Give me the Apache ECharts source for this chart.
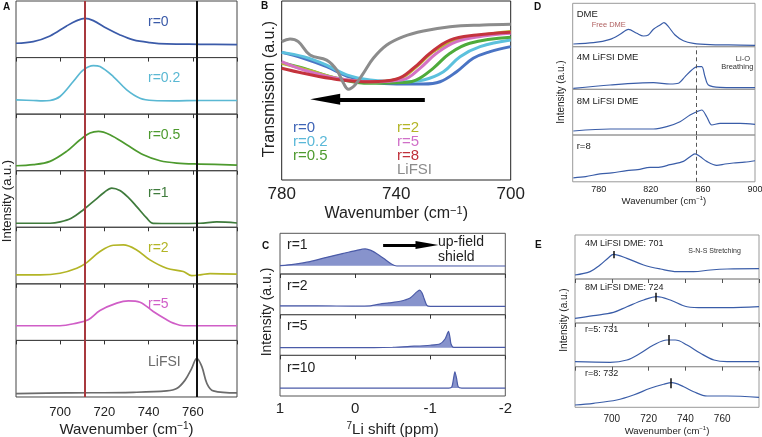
<!DOCTYPE html>
<html><head><meta charset="utf-8">
<script src="https://cdn.jsdelivr.net/npm/echarts@6/dist/echarts.min.js"></script>
<style>html,body{margin:0;padding:0;background:#fff}#c{width:762px;height:437px}</style>
</head><body><div id="c"></div>
<script>
// ---------- Panel A (Raman, wavenumber vs intensity, stacked) ----------
const A_labels = ['r=0','r=0.2','r=0.5','r=1','r=2','r=5','LiFSI'];
const A_r0  = [[680,25.3],[687.8,28.2],[695.4,38.2],[702.9,55.9],[707.5,65.3],[711.2,69.4],[715,65.3],[721,51.8],[727.1,40],[733.1,31.2],[740.6,26.5],[748.2,24.1],[763.3,23.5],[780,22.9]];
const A_r02 = [[680,25.3],[687.8,24.1],[692,23.3],[695.4,24.1],[699.9,31.2],[705.9,57.6],[710.5,78.2],[715,85.9],[718,84.1],[724,66.5],[730.1,42.9],[736.1,28.2],[742.1,24.1],[751.2,23.5],[763.3,24.1],[780,24.1]];
const A_r05 = [[680,8.8],[687.8,10.6],[695.4,16.5],[702.9,34.1],[709,54.7],[713.5,66.5],[717.3,69.4],[722.5,63.5],[730.1,45.9],[737.6,28.2],[745.2,17.6],[752.7,13.5],[763.3,11.8],[780,10]];
const A_r1  = [[680,7.1],[695.4,7.1],[700,9.5],[705,16],[710.5,31],[716,49],[720,62],[723.3,69.3],[727,65],[731,52],[734.6,36.6],[739.1,16.5],[742.1,7],[751.2,6.7],[763.3,7.1],[770.8,9.5],[780,7.6]];
const A_r2  = [[680,15.9],[690.9,15.9],[699.9,18.8],[707.5,27.6],[712,37.6],[718,57.1],[724,68.2],[728.6,68.8],[734.6,60],[740.6,42.4],[748.2,27.6],[755.7,21.8],[759.5,14.7],[763.3,15.9],[767.8,18.2],[780,17.1]];
const A_r5  = [[680,25.9],[690,25.9],[699.9,25.9],[707.5,30.6],[712.7,36.5],[718,52.9],[725.6,65.9],[730.9,70],[736.1,67.6],[742.1,51.2],[748.2,36.5],[751.2,30.6],[755.7,25.9],[780,25.9]];
const A_li  = [[680,6],[702.9,7.1],[733.1,8.3],[748.2,10.7],[752.7,14.9],[756.5,29.8],[759.5,50.6],[761.8,68.5],[764.1,53.6],[766.4,23.8],[769.3,10.7],[780,7.1]];
const A_refLines = [711, 762];

// ---------- Panel B (FTIR transmission) ----------
const B_labels = ['r=0','r=0.2','r=0.5','r=2','r=5','r=8','LiFSI'];
const B_r0  = [[780,71.3],[772.4,68],[764.3,63.3],[757.3,58.1],[749.1,54.9],[739.8,53.6],[730.5,53.6],[724.7,54.9],[718.9,60.5],[713.1,68],[707.2,71.7],[700,74.5]];
const B_r02 = [[780,71.3],[772.4,68.9],[764.3,64.2],[757.3,58.7],[749.1,55.9],[737.5,54.9],[730.5,55.9],[723.5,60.5],[717.7,68.9],[710.7,74.5],[700,78.2]];
const B_r05 = [[780,65.5],[772.4,62.4],[760.8,56.8],[749.1,54],[737.5,54.4],[732.9,55.9],[727.1,62.4],[721.2,70.8],[714.3,76.4],[700,79.7]];
const B_r2  = [[780,65.2],[770,61],[760.8,56.8],[749.1,54.9],[738.7,56.8],[732.9,63.3],[727.1,71.7],[718.9,78.2],[709.6,81],[700,82.9]];
const B_r5  = [[780,66.1],[772.4,61.5],[760.8,56.8],[749.1,54.9],[737.5,56.2],[731.7,62.4],[725.9,70.8],[718.9,77.3],[709.6,80.4],[700,82]];
const B_r8  = [[780,62.4],[772.4,59.6],[760.8,56.2],[749.1,54.9],[739.8,56.4],[734,62.4],[728.2,70.8],[721.2,78.2],[711.9,81],[700,82.6]];
const B_li  = [[780,77.3],[777.1,78.8],[774.2,77.3],[770.1,69.8],[764.3,67],[760.8,61.5],[758.4,54],[756.7,50.7],[754.4,53.1],[751.5,59.6],[748,68],[743.3,75.4],[737.5,80.1],[730.5,83.2],[721.2,85.6],[709.6,86.6],[700,87]];
const B_arrow = [[730,45.1],[764.8,45.1]];

// ---------- Panel C (7Li NMR) ----------
const C_labels = ['r=1','r=2','r=5','r=10'];
const C_r1  = [[1,20.5],[0.822,23.8],[0.6,30.3],[0.378,41],[0.156,50.8],[-0.022,58.2],[-0.133,61.5],[-0.244,54.9],[-0.378,38.5],[-0.489,23.8],[-0.556,19.7],[-1,19.7],[-2,19.7]];
const C_r2  = [[1,21.5],[0.5,21.8],[0,21],[-0.2,21.5],[-0.289,25],[-0.45,29],[-0.6,33],[-0.733,41],[-0.822,56],[-0.858,60.3],[-0.89,54],[-0.911,43.8],[-0.956,23.1],[-1.0,20.7],[-2,20.7]];
const C_r5  = [[1,18.9],[0,18.9],[-0.5,20],[-0.733,22.1],[-1.0,25],[-1.133,28.7],[-1.2,41],[-1.244,59],[-1.265,42],[-1.276,28.7],[-1.311,19.7],[-2,19.5]];
const C_r10 = [[1,19.5],[-1.25,19.5],[-1.289,22.8],[-1.311,43.1],[-1.329,59.3],[-1.351,43.1],[-1.373,22.8],[-1.42,19.5],[-2,19.5]];
const C_base = [20, 21, 19, 19.5];
const C_arrow = [[-0.373,71.3],[-0.957,71.3]];

// ---------- Panel D (Raman, Li-O breathing) ----------
const D_labels = ['DME','4M LiFSI DME','8M LiFSI DME','r=8'];
const D_dme = [[760.5,6.2],[775.9,9.2],[788.7,17],[796.4,28.6],[802.8,40.1],[809.2,30.9],[814.3,24.7],[818.1,27],[822,40.1],[827.1,50],[830.1,55.3],[833.5,46.1],[838.6,27],[845,13.8],[852.7,7.8],[865.5,4.6],[880,4],[900,3.2]];
const D_4m  = [[760.5,2.3],[788.7,10.1],[822,15.5],[834.8,12.4],[841.2,14.1],[846.3,29.6],[851.4,45.3],[855.7,53.1],[859.1,53.1],[861.6,29.6],[864.2,10.1],[873.2,4.7],[900,3.8]];
const D_8m  = [[760.5,8.8],[788.7,13.1],[822,13.1],[832.2,18.2],[842.4,29.1],[850.1,43.8],[855.2,51],[859.1,54.7],[862.9,40],[866.8,21.9],[873.2,25.6],[888.5,25.6],[900,23.4]];
const D_r8  = [[760.5,8.5],[770,11],[781,16.9],[790,19],[801.5,23.9],[810,26],[819.4,30.9],[826,31],[834.8,36.6],[845,43.6],[851.4,56.2],[854,59.8],[857.8,54.1],[862.9,43.6],[870.6,35.1],[877,38],[883.4,40.2],[892,42],[900,45]];
const D_dash = 855;

// ---------- Panel E (S-N-S stretching) ----------
const E_labels = ['4M LiFSI DME: 701','8M LiFSI DME: 724','r=5: 731','r=8: 732'];
const E_4m = [[680,9.1],[688.2,16.7],[693.6,31.8],[698.2,48.5],[700.9,56.1],[708.2,47],[717.3,31.8],[726.4,22.7],[735.5,16.7],[744.5,16.7],[753.6,20.5],[762.7,22.7],[780,23.5]];
const E_8m = [[680,10.6],[690,16.7],[700.9,24.2],[708.2,37],[717.3,52.3],[724.5,59.8],[731.8,52.3],[740.9,37],[750,34.8],[762.7,34.8],[780,37]];
const E_r5 = [[680,11.4],[699.1,10],[708.2,15.3],[715.5,30.7],[722.7,49.7],[730,61.1],[734.5,61.1],[740.9,49.7],[748.2,30.7],[755.5,15.3],[762.7,11.4],[780,11.4]];
const E_r8 = [[680,5.7],[690,9.9],[702.7,18],[711.8,30.3],[720.9,46.8],[728.2,56.7],[732.7,60.6],[739.1,50.7],[744.5,38.4],[751.8,27.8],[762.7,27.8],[780,24.6]];
const E_peaks = [701, 724, 731, 732];
const E_peakSpan = [[47,63.6],[48.4,68.9],[49.7,72.5],[46.8,71.4]];

// ================= build =================
const FF = '"Liberation Sans", Arial, Helvetica, sans-serif';
const grids = [], xAxes = [], yAxes = [], series = [], graphics = [];
function addGrid(left, top, width, height, border) {
  grids.push({left, top, width, height, show: true, borderColor: border, borderWidth: 1,
    backgroundColor: 'transparent', containLabel: false, outerBoundsMode: 'none'});
  yAxes.push({type: 'value', gridIndex: grids.length - 1, min: 0, max: 100, show: false});
  return grids.length - 1;
}
function supName(size) {
  return {
    name: '{a|Wavenumber (cm}{s|−1}{a|)}',
    nameTextStyle: {rich: {
      a: {fontSize: size, fontFamily: FF, color: '#222', lineHeight: size + 2},
      s: {fontSize: Math.round(size * 0.68), fontFamily: FF, color: '#222', verticalAlign: 'top', lineHeight: size * 0.9}
    }}
  };
}
function txt(text, x, y, size, color, opts) {
  graphics.push(Object.assign({type: 'text', x, y, silent: true,
    style: Object.assign({text, fill: color || '#222', fontSize: size, fontFamily: FF,
      align: 'left', verticalAlign: 'middle'}, (opts && opts.style) || {})}, (opts && opts.el) || {}));
}
function ytxt(text, x, y, size) {
  graphics.push({type: 'text', x, y, rotation: Math.PI / 2, silent: true,
    style: {text, fill: '#222', fontSize: size, fontFamily: FF, align: 'center', verticalAlign: 'middle'}});
}
function lineSeries(gi, data, color, width, extra) {
  series.push(Object.assign({type: 'line', xAxisIndex: gi, yAxisIndex: gi, data,
    symbol: 'none', showSymbol: false, smooth: 0.35, silent: true,
    lineStyle: {color, width}, itemStyle: {color}}, extra || {}));
}

// ---- A ----
const A_series = [A_r0, A_r02, A_r05, A_r1, A_r2, A_r5, A_li];
const A_colors = ['#3b5ba9','#5ab8d3','#4d9a2e','#3f7b3c','#b3b526','#d05ec7','#6b6b6b'];
const A_h = 56.57;
A_series.forEach((d, i) => {
  const gi = addGrid(16, 1 + i * A_h, 221, A_h, '#444');
  const last = i === A_series.length - 1;
  xAxes.push(Object.assign({type: 'value', gridIndex: gi, min: 680, max: 780, interval: 20,
    axisLine: {show: false}, splitLine: {show: false},
    axisTick: {show: !last, inside: false, length: 4, lineStyle: {color: '#333'}},
    axisLabel: {show: last, margin: 9, fontSize: 13, fontFamily: FF, color: '#222',
      formatter: v => (v >= 700 && v <= 760) ? String(v) : ''},
    nameLocation: 'middle', nameGap: 24}, last ? supName(15) : {}));
  lineSeries(gi, d, A_colors[i], 1.7, {
    markLine: {silent: true, symbol: 'none', animation: false, label: {show: false},
      data: [{xAxis: A_refLines[0], lineStyle: {color: '#a8393e', width: 2, type: 'solid'}},
             {xAxis: A_refLines[1], lineStyle: {color: '#111', width: 2, type: 'solid'}}]}
  });
});
const A_labelY = [21.7, 78, 135, 192.7, 248.3, 304, 361.7];
A_labels.forEach((t, i) => txt(t, 148, A_labelY[i], 14, A_colors[i]));
ytxt('Intensity (a.u.)', 7, 201, 13);
txt('A', 3, 7, 10, '#111', {style: {fontWeight: 'bold'}});

// ---- B ----
{
  const gi = addGrid(281.7, 1, 229, 179, '#222');
  xAxes.push(Object.assign({type: 'value', gridIndex: gi, min: 700, max: 780, interval: 20, inverse: true,
    axisLine: {show: false}, splitLine: {show: false}, axisTick: {show: false},
    axisLabel: {show: true, margin: 6, fontSize: 17, fontFamily: FF, color: '#222', showMinLabel: true, showMaxLabel: true,
      formatter: v => (v % 40 === 20) ? String(v) : ''},
    nameLocation: 'middle', nameGap: 25}, supName(16)));
  const B_series = [B_r0, B_r02, B_r05, B_r2, B_r5, B_r8, B_li];
  const B_colors = ['#4a74c4','#5cc1dd','#4eab3b','#b8bc2e','#d472c4','#c4333d','#8c8c8c'];
  B_series.forEach((d, i) => lineSeries(gi, d, B_colors[i], 3, {smooth: 0.4}));
  // arrow
  series.push({type: 'line', xAxisIndex: gi, yAxisIndex: gi, data: [], silent: true,
    markLine: {silent: true, animation: false, symbol: ['none', 'triangle'], symbolSize: [11, 30],
      label: {show: false}, lineStyle: {color: '#000', width: 4, type: 'solid'},
      itemStyle: {color: '#000'},
      data: [[{coord: B_arrow[0]}, {coord: B_arrow[1]}]]}});
  const B_txtColors = ['#3e64b6','#5ab8d8','#4d9a2e','#b3b526','#d070c8','#c0303a','#8c8c8c'];
  const pos = [[293,128.3],[293,142.3],[293,156],[397,128.3],[397,142.3],[397,156],[397,169.5]];
  B_labels.forEach((t, i) => txt(t, pos[i][0], pos[i][1], 15, B_txtColors[i]));
  ytxt('Transmission (a.u.)', 270, 89, 16);
  txt('B', 261, 6, 10, '#111', {style: {fontWeight: 'bold'}});
}

// ---- C ----
{
  const C_series = [C_r1, C_r2, C_r5, C_r10];
  const tops = [233.3, 274, 314.7, 355.3], h = 40.7;
  C_series.forEach((d, i) => {
    const gi = addGrid(280, tops[i], 225.3, h, '#555');
    const last = i === C_series.length - 1;
    xAxes.push(Object.assign({type: 'value', gridIndex: gi, min: -2, max: 1, interval: 1, inverse: true,
      axisLine: {show: false}, splitLine: {show: false},
      axisTick: {show: !last, inside: false, length: 4, lineStyle: {color: '#333'}},
      axisLabel: {show: last, margin: 5, fontSize: 15, fontFamily: FF, color: '#222', showMinLabel: true, showMaxLabel: true},
      nameLocation: 'middle', nameGap: 25},
      last ? {name: '{s|7}{a|Li shift (ppm)}', nameTextStyle: {rich: {
        a: {fontSize: 15, fontFamily: FF, color: '#222', lineHeight: 17},
        s: {fontSize: 10, fontFamily: FF, color: '#222', verticalAlign: 'top', lineHeight: 13}}}} : {}));
    lineSeries(gi, d, '#4b5ba8', 1.2, {smooth: 0.25,
      areaStyle: {color: '#8793cc', opacity: 1, origin: C_base[i]}});
    if (i === 0) {
      series.push({type: 'line', xAxisIndex: gi, yAxisIndex: gi, data: [], silent: true,
        markLine: {silent: true, animation: false, symbol: ['none', 'triangle'], symbolSize: [8, 23],
          label: {show: false}, lineStyle: {color: '#000', width: 3, type: 'solid'},
          itemStyle: {color: '#000'},
          data: [[{coord: C_arrow[0]}, {coord: C_arrow[1]}]]}});
    }
  });
  const ly = [245, 286, 326.5, 368];
  C_labels.forEach((t, i) => txt(t, 287, ly[i], 14, '#222'));
  txt('up-field', 438, 242, 14, '#222');
  txt('shield', 438, 257, 14, '#222');
  ytxt('Intensity (a.u.)', 267, 312, 14);
  txt('C', 262, 246, 10, '#111', {style: {fontWeight: 'bold'}});
}

// ---- D ----
{
  const D_series = [D_dme, D_4m, D_8m, D_r8];
  const tops = [3.3, 46.7, 89.3, 135], hs = [43.4, 42.6, 45.7, 46.8];
  D_series.forEach((d, i) => {
    const gi = addGrid(572.7, tops[i], 182.3, hs[i], '#999');
    const last = i === D_series.length - 1;
    xAxes.push(Object.assign({type: 'value', gridIndex: gi, min: 760, max: 900, interval: 20,
      axisLine: {show: false}, splitLine: {show: false}, axisTick: {show: false},
      axisLabel: {show: last, margin: 3, fontSize: 9, fontFamily: FF, color: '#222', showMaxLabel: true,
        formatter: v => (v >= 780 && (v - 780) % 40 === 0) ? String(v) : ''},
      nameLocation: 'middle', nameGap: 14}, last ? supName(9.5) : {}));
    const extra = {smooth: 0.3};
    if (i > 0) extra.markLine = {silent: true, symbol: 'none', animation: false, label: {show: false},
      data: [{xAxis: D_dash, lineStyle: {color: '#555', width: 1, type: [4, 3]}}]};
    lineSeries(gi, d, '#3a5da8', 1.2, extra);
  });
  const ly = [14, 57.3, 101.7, 146.7];
  D_labels.forEach((t, i) => txt(t, 576.7, ly[i], 9.5, '#222'));
  txt('Free DME', 591.7, 25, 7.5, '#b06060');
  txt('Li-O', 750, 59.3, 7.5, '#333', {style: {align: 'right'}});
  txt('Breathing', 753.3, 67.3, 7.5, '#333', {style: {align: 'right'}});
  ytxt('Intensity (a.u.)', 561, 92, 10);
  txt('D', 534, 7, 10, '#111', {style: {fontWeight: 'bold'}});
}

// ---- E ----
{
  const E_series = [E_4m, E_8m, E_r5, E_r8];
  const tops = [235, 279, 323, 366.7], hs = [44, 44, 43.7, 40.6];
  E_series.forEach((d, i) => {
    const gi = addGrid(575, tops[i], 184, hs[i], '#999');
    const last = i === E_series.length - 1;
    xAxes.push(Object.assign({type: 'value', gridIndex: gi, min: 680, max: 780, interval: 20,
      axisLine: {show: false}, splitLine: {show: false},
      axisTick: {show: !last, inside: false, length: 4, lineStyle: {color: '#555'}},
      axisLabel: {show: last, margin: 7, fontSize: 10, fontFamily: FF, color: '#222',
        formatter: v => (v >= 700 && v <= 760) ? String(v) : ''},
      nameLocation: 'middle', nameGap: 14}, last ? supName(9.5) : {}));
    lineSeries(gi, d, '#3a5da8', 1.2, {smooth: 0.35,
      markLine: {silent: true, animation: false, symbol: 'none', label: {show: false},
        lineStyle: {color: '#111', width: 1.5, type: 'solid'},
        data: [[{coord: [E_peaks[i], E_peakSpan[i][0]]}, {coord: [E_peaks[i], E_peakSpan[i][1]]}]]}});
  });
  const ly = [244, 287.3, 330, 373.3];
  E_labels.forEach((t, i) => txt(t, 585, ly[i], 9, '#222'));
  txt('S-N-S Stretching', 688.3, 250.7, 7, '#333');
  ytxt('Intensity (a.u.)', 564, 320, 10);
  txt('E', 535, 245, 10, '#111', {style: {fontWeight: 'bold'}});
}

const chart = echarts.init(document.getElementById('c'), null, {renderer: 'canvas'});
chart.setOption({
  animation: false,
  textStyle: {fontFamily: FF},
  grid: grids, xAxis: xAxes, yAxis: yAxes, series,
  graphic: {elements: graphics}
});
</script></body></html>
